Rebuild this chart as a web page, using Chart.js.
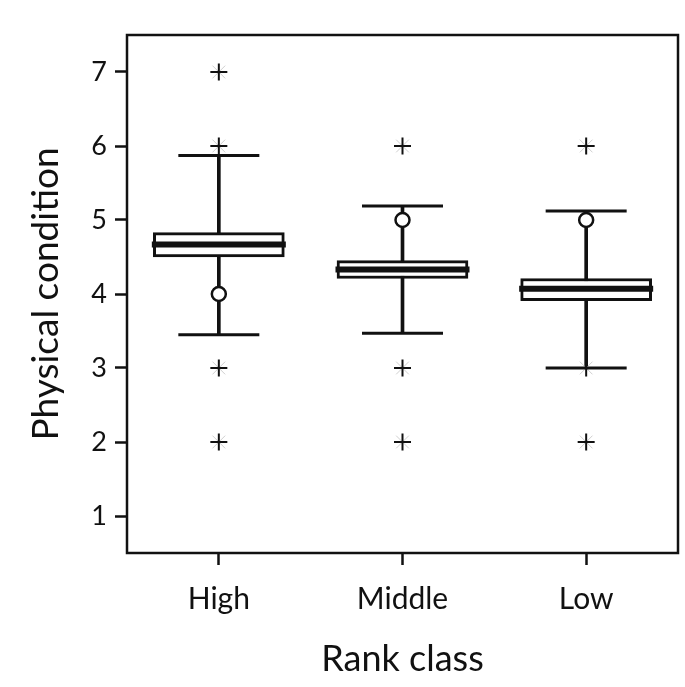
<!DOCTYPE html>
<html>
<head>
<meta charset="utf-8">
<script src="https://cdn.jsdelivr.net/npm/chart.js@4"></script>
<style>
  html, body { margin: 0; padding: 0; background: #ffffff; }
  #wrap { width: 685px; height: 687px; }
</style>
</head>
<body>
<div id="wrap"><canvas id="boxChart" width="685" height="687"></canvas></div>
<script>
// rank classes along the x axis
const categories = ["High", "Middle", "Low"];

// box plot summary per rank class
const whiskerLow = [3.45, 3.47, 3.0];
const q1 = [4.5, 4.21, 3.91];
const median = [4.67, 4.33, 4.07];
const q3 = [4.83, 4.45, 4.21];
const whiskerHigh = [5.87, 5.19, 5.12];

// outliers: circles and crosses
const circleOutliers = [[4], [5], [5]];
const plusOutliers = [[7, 6, 3, 2], [6, 3, 2], [6, 3, 2]];

// y axis ticks
const yTicks = [1, 2, 3, 4, 5, 6, 7];

// turn per-category lists into {x, y} points
const toPoints = (lists) => {
    let pts = [];
    lists.forEach((vals, i) => {
        vals.forEach(v => pts.push({ x: categories[i], y: v }));
    });
    return pts;
};
const single = (vals) => vals.map((v, i) => ({ x: categories[i], y: v }));

// frame around the plotting area
const frame = {
    id: "frame",
    afterDraw(chart) {
        const { ctx, chartArea } = chart;
        ctx.save();
        ctx.strokeStyle = "#111";
        ctx.lineWidth = 2.5;
        ctx.strokeRect(chartArea.left, chartArea.top, chartArea.right - chartArea.left, chartArea.bottom - chartArea.top);
        ctx.restore();
    }
};

const ctx = document.getElementById("boxChart");

new Chart(ctx, {
    type: "bar",
    data: {
        labels: categories,
        datasets: [
            {
                // median bar
                type: "line",
                data: single(median),
                showLine: false,
                pointStyle: "line",
                pointRadius: 67,
                borderColor: "#111",
                pointBorderWidth: 6,
                order: 0
            },
            {
                // whisker caps
                type: "line",
                data: single(whiskerLow).concat(single(whiskerHigh)),
                showLine: false,
                pointStyle: "line",
                pointRadius: 40.5,
                borderColor: "#111",
                pointBorderWidth: 3,
                order: 1
            },
            {
                // circle outliers
                type: "line",
                data: toPoints(circleOutliers),
                showLine: false,
                pointStyle: "circle",
                pointRadius: 7,
                pointBackgroundColor: "#fff",
                borderColor: "#111",
                pointBorderWidth: 2.5,
                order: 1
            },
            {
                // cross outliers
                type: "line",
                data: toPoints(plusOutliers),
                showLine: false,
                pointStyle: "cross",
                pointRadius: 8.5,
                borderColor: "#111",
                pointBorderWidth: 2,
                order: 2
            },
            {
                // faint rotated cross under each plus
                type: "line",
                data: toPoints(plusOutliers),
                showLine: false,
                pointStyle: "crossRot",
                pointRadius: 9,
                borderColor: "#cfcfcf",
                pointBorderWidth: 1,
                order: 3
            },
            {
                // box from q1 to q3
                data: q1.map((v, i) => [v, q3[i]]),
                backgroundColor: "#fff",
                borderColor: "#111",
                borderWidth: 3,
                borderSkipped: false,
                barThickness: 131,
                grouped: false,
                order: 4
            },
            {
                // whisker line
                data: whiskerLow.map((v, i) => [v, whiskerHigh[i]]),
                backgroundColor: "#111",
                borderWidth: 0,
                barThickness: 3,
                grouped: false,
                order: 5
            }
        ]
    },
    options: {
        responsive: false,
        animation: false,
        events: [],
        layout: { autoPadding: false, padding: { top: 35, right: 7, left: 0, bottom: 0 } },
        plugins: {
            legend: { display: false },
            tooltip: { enabled: false }
        },
        scales: {
            x: {
                type: "category",
                offset: true,
                border: { display: false },
                grid: {
                    offset: false,
                    drawOnChartArea: false,
                    drawTicks: true,
                    tickLength: 12,
                    tickWidth: 2.5,
                    tickColor: "#111"
                },
                ticks: {
                    color: "#111",
                    padding: 16,
                    maxRotation: 0,
                    font: { family: "Lato", size: 30 }
                },
                title: {
                    display: true,
                    text: "Rank class",
                    color: "#111",
                    padding: { top: 0, bottom: 6 },
                    font: { family: "Lato", size: 36 }
                },
                afterFit: (scale) => { scale.height = 134; }
            },
            y: {
                min: 0.5,
                max: 7.5,
                border: { display: false },
                grid: {
                    drawOnChartArea: false,
                    drawTicks: true,
                    tickLength: 12,
                    tickWidth: 2.5,
                    tickColor: "#111"
                },
                ticks: {
                    color: "#111",
                    padding: 8,
                    font: { family: "Lato", size: 27 }
                },
                afterBuildTicks: (scale) => {
                    scale.ticks = yTicks.map(v => ({ value: v }));
                },
                title: {
                    display: true,
                    text: "Physical condition",
                    color: "#111",
                    padding: { top: 24, bottom: 0 },
                    font: { family: "Lato", size: 37 }
                },
                afterFit: (scale) => { scale.width = 127; }
            }
        }
    },
    plugins: [frame]
});
</script>
</body>
</html>
